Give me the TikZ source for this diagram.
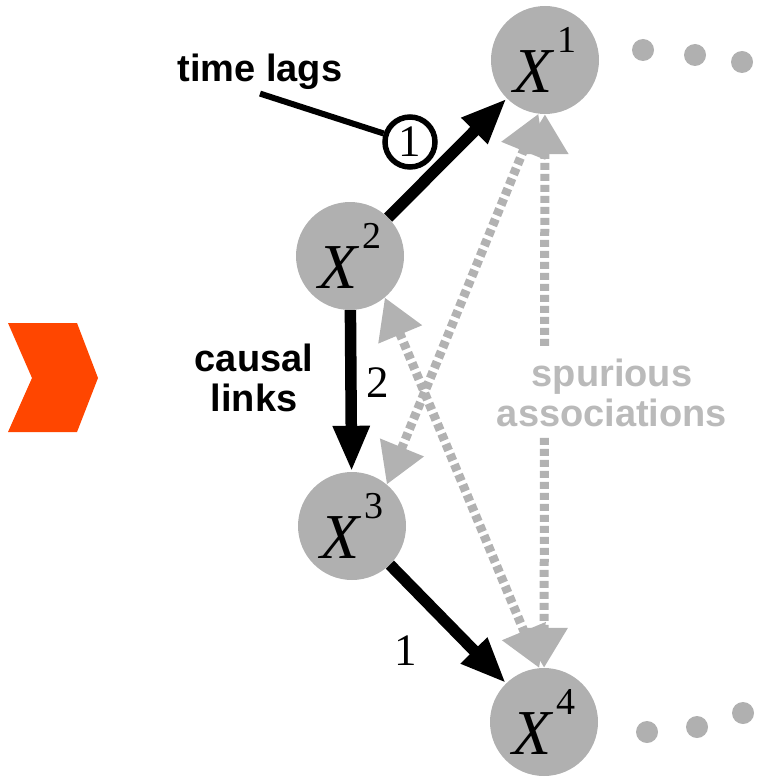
\documentclass[tikz,border=0pt]{standalone}
\usepackage{fontspec}
\setsansfont{Liberation Sans}
\newfontfamily\timesfont{Liberation Serif}
\usetikzlibrary{arrows.meta}
\definecolor{vargray}{RGB}{176,176,176}
\definecolor{linkgray}{RGB}{178,178,178}
\definecolor{notegray}{RGB}{186,186,186}
\definecolor{markorange}{RGB}{255,70,0}
\newcommand{\varlabel}[1]{\textit{X}\kern2pt\raisebox{1.35ex}{\fontsize{38}{38}\selectfont #1}}
\tikzset{
  var/.style={
    circle,
    fill=vargray,
    minimum size=108pt,
    inner sep=0pt,
    font=\timesfont\fontsize{64}{64}\selectfont
  },
  causal/.style={
    -{Triangle[length=46pt,width=34pt]},
    line width=11.5pt,
    draw=black
  },
  spurious/.style={
    {Triangle[length=40pt,width=45pt]}-{Triangle[length=40pt,width=45pt]},
    line width=9pt,
    dash pattern=on 7pt off 4pt,
    draw=linkgray
  },
  lagnum/.style={
    inner sep=2pt,
    font=\timesfont\fontsize{45}{45}\selectfont
  },
  lagmark/.style={
    circle,
    draw=black,
    line width=5.5pt,
    fill=white,
    minimum size=50pt,
    inner sep=0pt,
    font=\timesfont\fontsize{45}{45}\selectfont
  },
  note/.style={
    align=center,
    font=\sffamily\bfseries\fontsize{38}{40}\selectfont
  }
}

\begin{document}
\begin{tikzpicture}[x=1pt, y=-1pt]
  \useasboundingbox (0,0) rectangle (761,778);

  % chevron
  \fill[markorange] (8,323) -- (77,323) -- (98,378) -- (77,432) -- (8,432) -- (32,378) -- cycle;

  \node[var] (x1) at (545,60) {\varlabel{1}};
  \node[var] (x2) at (350,256) {\varlabel{2}};
  \node[var] (x3) at (352,526) {\varlabel{3}};
  \node[var] (x4) at (544,722) {\varlabel{4}};

  \foreach \px/\py in {643/50, 695/55, 742/62, 647/732, 697/727, 743/713}
    \fill[vargray] (\px,\py) circle (11pt);

  % spurious associations
  \path (x1) edge[spurious] (x4)
        (x3.50) edge[spurious] (x1.-97)
        (x2.-50) edge[spurious] (x4.95);
  \node[note, text=notegray, fill=white, inner sep=10pt] (spur) at (612,393) {spurious\\associations};

  % causal links
  \path (x2) edge[causal] (x1)
        (x2) edge[causal] node[lagnum, pos=0.45, right=8pt] {2} (x3)
        (x3) edge[causal] node[lagnum, pos=0.42, below left=14pt] {1} (x4);
  \node[note] (causal) at (254,378) {causal\\links};

  % time lags
  \node[note, anchor=base] (timelags) at (260,82) {time lags};
  \node[lagmark] (lag) at (410,142) {1};
  \draw[line width=6pt] (timelags.south) -- (lag);
\end{tikzpicture}
\end{document}
